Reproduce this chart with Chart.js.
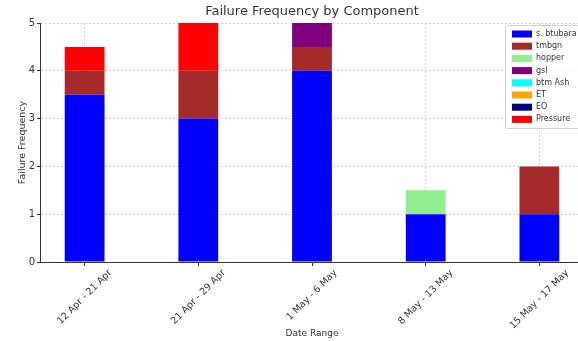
<!DOCTYPE html>
<html>
<head>
<meta charset="utf-8">
<script src="https://cdn.jsdelivr.net/npm/chart.js@4"></script>
<style>
  html, body { margin: 0; padding: 0; background: #fff; overflow: hidden; }
  #wrap { width: 578px; height: 341px; overflow: hidden; }
</style>
</head>
<body>
<div id="wrap"><canvas id="chart" width="600" height="341"></canvas></div>
<script>
// Date ranges on the x axis
const dateRanges = ['12 Apr - 21 Apr', '21 Apr - 29 Apr', '1 May - 6 May', '8 May - 13 May', '15 May - 17 May'];

// Failure counts per component (stacked bottom to top)
const sBtubara = [3.5, 3, 4, 1, 1];
const tmbgn    = [0.5, 1, 0.5, 0, 1];
const hopper   = [0, 0, 0, 0.5, 0];
const gsl      = [0, 0, 0.5, 0, 0];
const btmAsh   = [0, 0, 0, 0, 0];
const et       = [0, 0, 0, 0, 0];
const eo       = [0, 0, 0, 0, 0];
const pressure = [0.5, 1, 0, 0, 0];

const yTicks = [0, 1, 2, 3, 4, 5];

const chartTitle = 'Failure Frequency by Component';

const components = [
    { label: 's. btubara', values: sBtubara, color: '#0000ff' },
    { label: 'tmbgn',      values: tmbgn,    color: '#a52a2a' },
    { label: 'hopper',     values: hopper,   color: '#90ee90' },
    { label: 'gsl',        values: gsl,      color: '#800080' },
    { label: 'btm Ash',    values: btmAsh,   color: '#00ffff' },
    { label: 'ET',         values: et,       color: '#ffa500' },
    { label: 'EO',         values: eo,       color: '#000080' },
    { label: 'Pressure',   values: pressure, color: '#ff0000' }
];

// Builds the datasets, one per component
const datasets = components.map(c => ({
    label: c.label,
    data: c.values.map((v, i) => ({ x: i, y: v })),
    backgroundColor: c.color,
    borderWidth: 0,
    barPercentage: 0.35,
    categoryPercentage: 1.0
}));

// Title centred over the plot area, x labels centred on their ticks, legend box
const extras = {
    id: 'extras',
    afterDraw(chart) {
        const ctx = chart.ctx;
        const area = chart.chartArea;
        const xs = chart.scales.x;
        ctx.save();

        // title
        ctx.fillStyle = '#333';
        ctx.font = '13px "DejaVu Sans"';
        ctx.textAlign = 'center';
        ctx.textBaseline = 'middle';
        ctx.fillText(chartTitle, (area.left + area.right) / 2, 12);

        // rotated tick labels, centred on the tick like matplotlib
        ctx.font = '9.5px "DejaVu Sans"';
        const h = 9.5;
        dateRanges.forEach((label, i) => {
            const x = xs.getPixelForValue(i);
            const w = ctx.measureText(label).width;
            const bboxH = (w + h) * Math.SQRT1_2;
            const cy = area.bottom + 6 + bboxH / 2;
            ctx.save();
            ctx.translate(x, cy);
            ctx.rotate(-Math.PI / 4);
            ctx.fillText(label, 0, 0);
            ctx.restore();
        });

        // legend
        const x0 = 505, y0 = 25, w = 90, hh = 103;
        ctx.fillStyle = 'rgba(255,255,255,0.85)';
        ctx.strokeStyle = '#d0d0d0';
        ctx.lineWidth = 1;
        ctx.beginPath();
        ctx.roundRect(x0 + 0.5, y0 + 0.5, w, hh, 2);
        ctx.fill();
        ctx.stroke();
        ctx.font = '8px "DejaVu Sans"';
        ctx.textAlign = 'left';
        components.forEach((c, i) => {
            const y = 34 + i * 12.2;
            ctx.fillStyle = c.color;
            ctx.fillRect(512, y - 3.5, 20, 7);
            ctx.fillStyle = '#333';
            ctx.fillText(c.label, 536, y);
        });
        ctx.restore();
    }
};

const gridColor = 'rgba(180,180,180,0.6)';

const ctx = document.getElementById('chart').getContext('2d');
new Chart(ctx, {
    type: 'bar',
    data: { datasets: datasets },
    options: {
        responsive: false,
        animation: false,
        layout: { padding: { left: 0, right: 16, top: 23, bottom: 0 } },
        plugins: {
            legend: { display: false },
            tooltip: { enabled: false },
            title: { display: false }
        },
        scales: {
            x: {
                type: 'linear',
                min: -0.3925,
                max: 4.3925,
                offset: false,
                stacked: true,
                z: 1,
                afterBuildTicks: axis => { axis.ticks = dateRanges.map((d, i) => ({ value: i })); },
                afterFit: axis => { axis.height = 79; },
                ticks: { display: false },
                grid: {
                    offset: false,
                    color: gridColor,
                    tickColor: '#333',
                    tickLength: 4,
                    drawTicks: true
                },
                border: { display: true, color: '#333', width: 1, dash: [2, 2] },
                title: {
                    display: true,
                    text: 'Date Range',
                    color: '#333',
                    font: { family: 'DejaVu Sans', size: 9 },
                    padding: { top: 0, bottom: 2 }
                }
            },
            y: {
                min: 0,
                max: 5,
                stacked: true,
                z: 1,
                afterBuildTicks: axis => { axis.ticks = yTicks.map(v => ({ value: v })); },
                afterFit: axis => { axis.width = 40; },
                ticks: {
                    color: '#333',
                    padding: 2,
                    font: { family: 'DejaVu Sans', size: 10 }
                },
                grid: {
                    color: gridColor,
                    tickColor: '#333',
                    tickLength: 3
                },
                border: { display: true, color: '#333', width: 1, dash: [2, 2] },
                title: {
                    display: true,
                    text: 'Failure Frequency',
                    color: '#333',
                    font: { family: 'DejaVu Sans', size: 9.5 },
                    padding: { top: 17, bottom: 0 }
                }
            }
        }
    },
    plugins: [extras]
});
</script>
</body>
</html>
